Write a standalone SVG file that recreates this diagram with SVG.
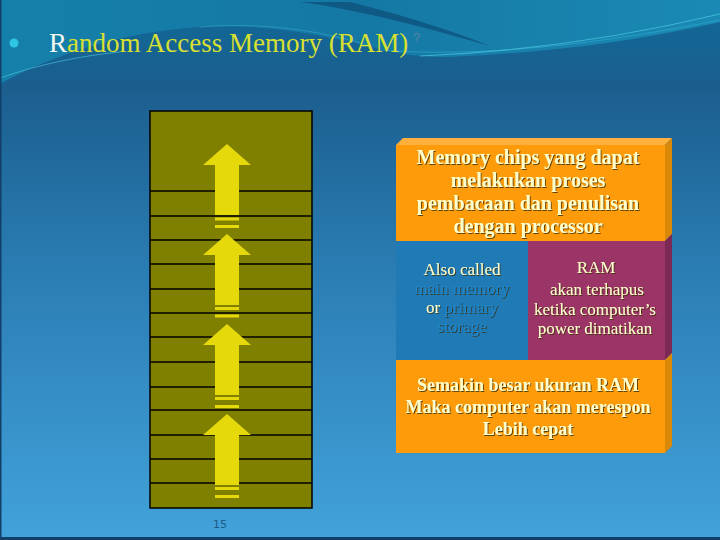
<svg xmlns="http://www.w3.org/2000/svg" width="720" height="540" viewBox="0 0 720 540">
<defs>
<linearGradient id="bg" x1="0" y1="0" x2="0" y2="1">
<stop offset="0" stop-color="#0f6a98"/>
<stop offset="0.16" stop-color="#1b5e8e"/>
<stop offset="0.5" stop-color="#2a7db3"/>
<stop offset="1" stop-color="#42a2da"/>
</linearGradient>
<linearGradient id="teal" x1="0" y1="0" x2="1" y2="0">
<stop offset="0" stop-color="#1580aa"/>
<stop offset="0.5" stop-color="#1578a4"/>
<stop offset="1" stop-color="#1a8ab4"/>
</linearGradient>
<filter id="sh" x="-10%" y="-20%" width="120%" height="150%">
<feDropShadow dx="1" dy="1" stdDeviation="0.4" flood-color="#3a2a00" flood-opacity="0.8"/>
</filter>
<style>
.cell{fill:none;stroke:#000;stroke-width:1.3}
.arr{fill:#e5d90c}
.bt{font-family:"Liberation Serif","Times New Roman",serif;font-weight:bold;font-size:20px;fill:#ffffcc;text-anchor:middle}
.bb{font-size:18px}
.mt{font-family:"Liberation Serif","Times New Roman",serif;font-size:17px;fill:#ffffcc;text-anchor:middle}
.bl{fill:#1b88ca}
</style>
</defs>
<g id="background">
<rect x="0" y="0" width="720" height="540" fill="url(#bg)"/>
<path d="M0,0 H720 V22 C640,40 560,52 450,57 C410,58 385,50 360,44 C300,30 250,24 200,27 C120,32 50,56 0,84 Z" fill="url(#teal)"/>
<path d="M300,2 C360,10 420,26 490,46 C440,26 390,12 350,2 Z" fill="#0c4d78" opacity="0.7"/>
<path d="M420,56 C520,52 620,38 720,14" fill="none" stroke="#4cc8e0" stroke-width="1.2" opacity="0.7"/>
<path d="M380,50 C480,58 600,44 720,20" fill="none" stroke="#3ab8d8" stroke-width="0.8" opacity="0.6"/>
<path d="M0,78 C40,64 80,56 120,52" fill="none" stroke="#4cc8e0" stroke-width="1" opacity="0.6"/>
<path d="M200,27 C260,22 320,30 370,46" fill="none" stroke="#3ab0d0" stroke-width="1" opacity="0.5"/>
<rect x="0" y="0" width="1.5" height="540" fill="#123f6a"/>
<rect x="0" y="537" width="720" height="3" fill="#123f6a"/>
</g>
<g id="title">
<circle cx="14" cy="43" r="4.5" fill="#2ec6e2"/>
<text x="49" y="52" font-family="Liberation Serif,serif" font-size="27" fill="#d8e030"><tspan fill="#f4f8f0">R</tspan>andom Access Memory (RAM)</text>
<text x="413" y="42" font-family="Liberation Sans,sans-serif" font-size="13" fill="#5d86a4">?</text>
</g>
<g id="memory-column">
<rect x="150" y="111" width="162" height="397" fill="#808000" stroke="#000" stroke-width="1.5"/>
<path class="cell" d="M150,191H312M150,216H312M150,240H312M150,264H312M150,289H312M150,313H312M150,337H312M150,362H312M150,387H312M150,410H312M150,435H312M150,459H312M150,483H312"/>
</g>
<g id="connectors">
<g id="arrow1" class="arr"><path d="M227,144 L251,165 L239,165 L239,215 L215,215 L215,165 L203,165 Z"/><rect x="215" y="217.5" width="24" height="3"/><rect x="215" y="225" width="24" height="3"/></g>
<g id="arrow2" class="arr"><path d="M227,234 L251,255 L239,255 L239,305 L215,305 L215,255 L203,255 Z"/><rect x="215" y="307" width="24" height="3"/><rect x="215" y="314.5" width="24" height="3"/></g>
<g id="arrow3" class="arr"><path d="M227,324 L251,345 L239,345 L239,395 L215,395 L215,345 L203,345 Z"/><rect x="215" y="397" width="24" height="3"/><rect x="215" y="405" width="24" height="3"/></g>
<g id="arrow4" class="arr"><path d="M227,414 L251,435 L239,435 L239,485 L215,485 L215,435 L203,435 Z"/><rect x="215" y="487" width="24" height="3"/><rect x="215" y="495" width="24" height="3"/></g>
</g>
<text x="213" y="528" font-family="DejaVu Sans,sans-serif" font-size="11" fill="#1d5c8a">15</text>
<g id="node-top">
<path d="M396,145 L403,138 L672,138 L665,145 Z" fill="#fdb13c"/>
<path d="M665,145 L672,138 L672,234 L665,241 Z" fill="#d98808"/>
<rect x="396" y="145" width="269" height="96" fill="#fd9b0a"/>
<g filter="url(#sh)">
<text class="bt" x="528" y="164">Memory chips yang dapat</text>
<text class="bt" x="528" y="187">melakukan proses</text>
<text class="bt" x="528" y="210">pembacaan dan penulisan</text>
<text class="bt" x="528" y="233">dengan processor</text>
</g>
</g>
<g id="node-left">
<rect x="396" y="241" width="132" height="119" fill="#1f7ab6"/>
<g filter="url(#sh)">
<text class="mt" x="462" y="275">Also called</text>
<text class="mt bl" x="462" y="294">main memory</text>
<text class="mt" x="462" y="313">or <tspan class="bl">primary</tspan></text>
<text class="mt bl" x="462" y="332">storage</text>
</g>
</g>
<g id="node-right">
<path d="M665,241 L672,234 L672,353 L665,360 Z" fill="#7a2a55"/>
<rect x="528" y="241" width="137" height="119" fill="#9b3467"/>
<g filter="url(#sh)">
<text class="mt" x="596" y="273">RAM</text>
<text class="mt" x="597" y="295">akan terhapus</text>
<text class="mt" x="595" y="315">ketika computer’s</text>
<text class="mt" x="595" y="334">power dimatikan</text>
</g>
</g>
<g id="node-bottom">
<path d="M665,360 L672,353 L672,446 L665,453 Z" fill="#d98808"/>
<rect x="396" y="360" width="269" height="93" fill="#fd9b0a"/>
<g filter="url(#sh)">
<text class="bt bb" x="528" y="391">Semakin besar ukuran RAM</text>
<text class="bt bb" x="528" y="413">Maka computer akan merespon</text>
<text class="bt bb" x="528" y="435">Lebih cepat</text>
</g>
</g>
</svg>
